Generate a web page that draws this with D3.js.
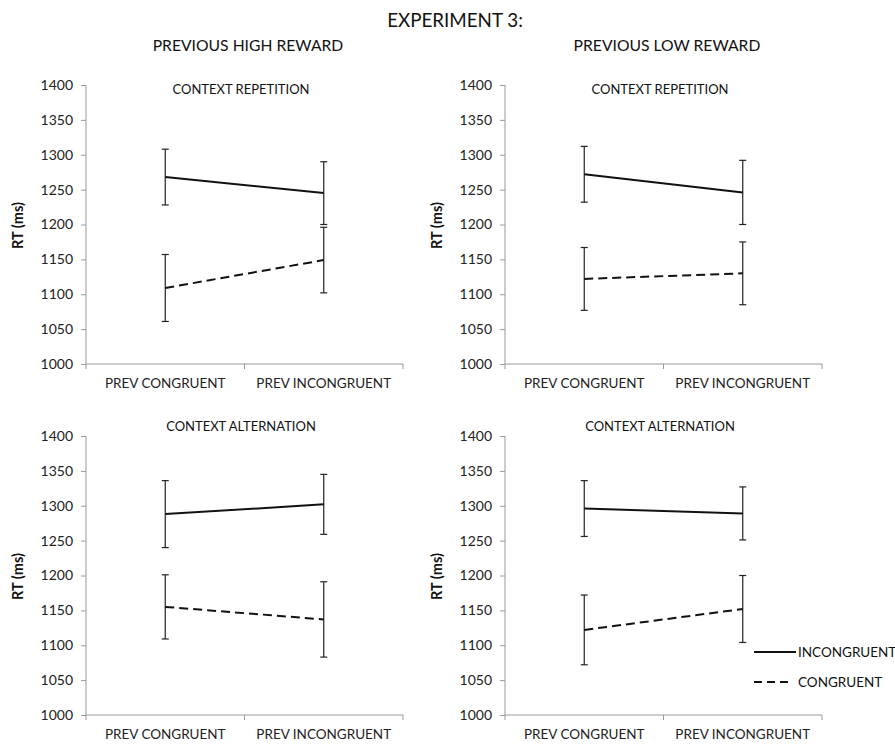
<!DOCTYPE html>
<html>
<head>
<meta charset="utf-8">
<title>Experiment 3</title>
<script src="https://d3js.org/d3.v7.min.js"></script>
<style>
  body { margin: 0; background: white; }
  svg { font-family: Lato, "Open Sans", sans-serif; }
  .axis path, .axis line { stroke: #9a9a9a; }
  .axis text { fill: #222; font-size: 14px; font-family: Lato, sans-serif; }
</style>
</head>
<body>
<svg id="chart" width="895" height="744"></svg>
<script>
// data
const categories = ["PREV CONGRUENT", "PREV INCONGRUENT"];
const yTicks = [1000, 1050, 1100, 1150, 1200, 1250, 1300, 1350, 1400];
const panelTitles = ["CONTEXT REPETITION", "CONTEXT REPETITION", "CONTEXT ALTERNATION", "CONTEXT ALTERNATION"];
const columnTitles = ["PREVIOUS HIGH REWARD", "PREVIOUS LOW REWARD"];

// per panel: [top-left, top-right, bottom-left, bottom-right]
const incongruentMean = [[1268, 1245], [1272, 1246], [1288, 1302], [1296, 1289]];
const incongruentErr  = [[40, 45], [40, 46], [48, 43], [40, 38]];
const congruentMean   = [[1109, 1149], [1122, 1130], [1155, 1137], [1122, 1152]];
const congruentErr    = [[48, 47], [45, 45], [46, 54], [50, 48]];

const svg = d3.select("#chart");

svg.append("text").attr("x", 455).attr("y", 27).attr("text-anchor", "middle")
  .style("font-size", "18.8px").attr("fill", "#111").text("EXPERIMENT 3:");

const colX = [86, 505];
const rowY = [85, 436];
const pw = 317, ph = 279;

columnTitles.forEach((t, i) => {
  svg.append("text").attr("x", colX[i] + 162).attr("y", 51).attr("text-anchor", "middle")
    .style("font-size", "15.7px").attr("fill", "#111").text(t);
});

for (let p = 0; p < 4; p++) {
  const x0 = colX[p % 2], y0 = rowY[Math.floor(p / 2)];
  const g = svg.append("g");

  const x = d3.scaleBand().domain(categories).range([x0, x0 + pw]).padding(0);
  const y = d3.scaleLinear().domain([1000, 1400]).range([y0 + ph, y0]);
  const cx = c => x(c) + x.bandwidth() / 2;

  // y axis
  g.append("g").attr("class", "axis").attr("transform", `translate(${x0},0)`)
    .call(d3.axisLeft(y).tickValues(yTicks).tickSize(5).tickPadding(8).tickFormat(d3.format("d")))
    .call(a => a.select(".domain").attr("d", `M0,${y0}V${y0 + ph}`));

  // x axis: line with ticks on band boundaries
  g.append("line").attr("x1", x0).attr("x2", x0 + pw).attr("y1", y(1000)).attr("y2", y(1000))
    .attr("stroke", "#9a9a9a");
  g.selectAll(".xt").data([x0, x(categories[1]), x0 + pw]).join("line")
    .attr("x1", d => d).attr("x2", d => d).attr("y1", y(1000)).attr("y2", y(1000) + 5)
    .attr("stroke", "#9a9a9a");
  g.selectAll(".xl").data(categories).join("text")
    .attr("x", d => cx(d)).attr("y", y(1000) + 24).attr("text-anchor", "middle")
    .style("font-size", "13.5px").attr("fill", "#222").text(d => d);

  // y label
  g.append("text")
    .attr("transform", `translate(${x0 - 63},${y0 + ph / 2 + 1}) rotate(-90)`)
    .attr("text-anchor", "middle").style("font-size", "14.5px").style("font-weight", "bold")
    .attr("fill", "#111").text("RT (ms)");

  // panel title
  g.append("text").attr("x", x0 + 155).attr("y", p < 2 ? y0 + 9 : y0 - 5)
    .attr("text-anchor", "middle").style("font-size", "13px").attr("fill", "#111")
    .text(panelTitles[p]);

  const series = [
    { mean: incongruentMean[p], err: incongruentErr[p], dash: null },
    { mean: congruentMean[p], err: congruentErr[p], dash: "9,5" }
  ];

  series.forEach(s => {
    const pts = categories.map((c, i) => ({ c, m: s.mean[i], e: s.err[i] }));
    // error bars
    pts.forEach(d => {
      const xx = cx(d.c);
      g.append("line").attr("x1", xx).attr("x2", xx).attr("y1", y(d.m - d.e)).attr("y2", y(d.m + d.e))
        .attr("stroke", "#222").attr("stroke-width", 1.2);
      [d.m - d.e, d.m + d.e].forEach(v => {
        g.append("line").attr("x1", xx - 3.5).attr("x2", xx + 3.5).attr("y1", y(v)).attr("y2", y(v))
          .attr("stroke", "#222").attr("stroke-width", 1.2);
      });
    });
    g.append("path").datum(pts)
      .attr("d", d3.line().x(d => cx(d.c)).y(d => y(d.m)))
      .attr("fill", "none").attr("stroke", "#111").attr("stroke-width", 2)
      .attr("stroke-dasharray", s.dash);
  });
}

// legend
const legend = svg.append("g");
const legendItems = [{ name: "INCONGRUENT", dash: null, len: 42 }, { name: "CONGRUENT", dash: "8,5", len: 37 }];
legendItems.forEach((d, i) => {
  const ly = 652 + i * 30;
  legend.append("line").attr("x1", 754).attr("x2", 754 + d.len).attr("y1", ly).attr("y2", ly)
    .attr("stroke", "#111").attr("stroke-width", 2).attr("stroke-dasharray", d.dash);
  legend.append("text").attr("x", 798).attr("y", ly + 5).style("font-size", "13.5px")
    .attr("fill", "#111").text(d.name);
});
</script>
</body>
</html>
